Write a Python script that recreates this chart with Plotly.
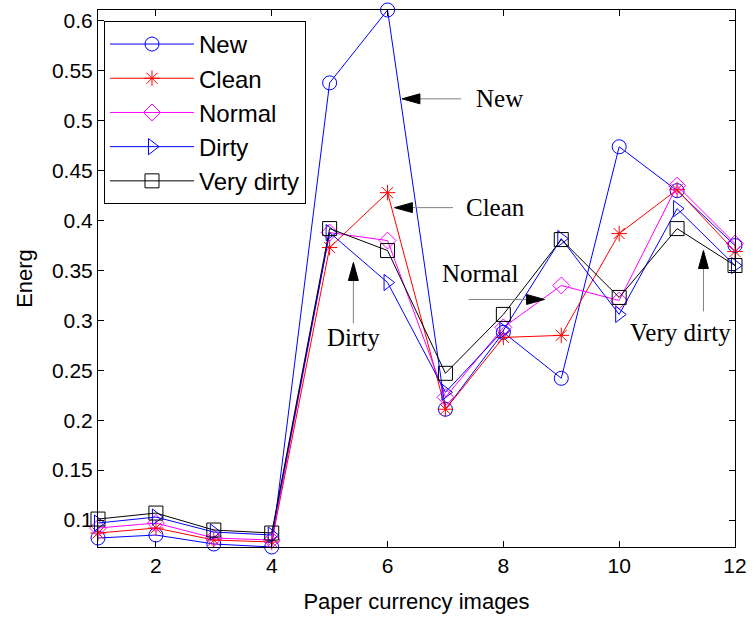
import plotly.graph_objects as go

x_vals = list(range(1, 13))
new = [0.082, 0.085, 0.076, 0.073, 0.538, 0.611, 0.211, 0.288, 0.242, 0.474, 0.430, 0.375]
clean = [0.087, 0.092, 0.080, 0.078, 0.373, 0.428, 0.211, 0.283, 0.285, 0.387, 0.431, 0.369]
normal = [0.092, 0.097, 0.082, 0.080, 0.388, 0.380, 0.223, 0.293, 0.335, 0.320, 0.435, 0.377]
dirty = [0.097, 0.103, 0.088, 0.085, 0.388, 0.338, 0.228, 0.290, 0.382, 0.306, 0.412, 0.355]
very_dirty = [0.101, 0.107, 0.090, 0.087, 0.392, 0.370, 0.247, 0.306, 0.381, 0.323, 0.392, 0.355]

series_names = ["New", "Clean", "Normal", "Dirty", "Very dirty"]
series_vals = [new, clean, normal, dirty, very_dirty]
colors = ["#0000ff", "#ff0000", "#ff00ff", "#0000ff", "#000000"]
symbols = ["circle-open", "asterisk-open", "diamond-open", "triangle-right-open", "square-open"]
sizes = [14, 13, 13, 14, 14]

y_ticks = [0.1, 0.15, 0.2, 0.25, 0.3, 0.35, 0.4, 0.45, 0.5, 0.55, 0.6]
y_ticktext = ["0.1", "0.15", "0.2", "0.25", "0.3", "0.35", "0.4", "0.45", "0.5", "0.55", "0.6"]
x_ticks = [2, 4, 6, 8, 10, 12]

# annotation callouts: label, text position, arrow tail, arrow tip, direction
callouts = [
    ("New", (7.94, 0.522), (7.27, 0.522), (6.25, 0.522), "left"),
    ("Clean", (7.87, 0.413), (7.13, 0.413), (6.12, 0.413), "left"),
    ("Normal", (7.59, 0.347), (7.40, 0.321), (8.71, 0.321), "right"),
    ("Dirty", (5.41, 0.283), (5.41, 0.297), (5.41, 0.358), "up"),
    ("Very dirty", (11.06, 0.288), (11.455, 0.309), (11.455, 0.370), "up"),
]

fig = go.Figure()
for name, vals, c, s, sz in zip(series_names, series_vals, colors, symbols, sizes):
    fig.add_trace(go.Scatter(
        x=x_vals, y=vals, name=name, mode="lines+markers",
        line=dict(color=c, width=1),
        marker=dict(symbol=s, size=sz, color=c, line=dict(color=c, width=1)),
        cliponaxis=False,
    ))

px_x = 641 / 11.0   # px per x unit
px_y = 538 / (0.611 - 0.073)  # px per y unit
head_len = 18
head_half = 5

shapes = []
annotations = []
for label, tpos, tail, tip, d in callouts:
    if d == "left":
        base = (tip[0] + head_len / px_x, tip[1])
        path = "M {},{} L {},{} L {},{} Z".format(tip[0], tip[1], base[0], tip[1] + head_half / px_y, base[0], tip[1] - head_half / px_y)
    elif d == "right":
        base = (tip[0] - head_len / px_x, tip[1])
        path = "M {},{} L {},{} L {},{} Z".format(tip[0], tip[1], base[0], tip[1] + head_half / px_y, base[0], tip[1] - head_half / px_y)
    else:
        base = (tip[0], tip[1] - head_len / px_y)
        path = "M {},{} L {},{} L {},{} Z".format(tip[0], tip[1], tip[0] - head_half / px_x, base[1], tip[0] + head_half / px_x, base[1])
    shapes.append(dict(type="line", xref="x", yref="y", x0=tail[0], y0=tail[1], x1=base[0], y1=base[1],
                       line=dict(color="#808080", width=1)))
    shapes.append(dict(type="path", xref="x", yref="y", path=path, fillcolor="black",
                       line=dict(color="black", width=1)))
    annotations.append(dict(x=tpos[0], y=tpos[1], xref="x", yref="y", text=label, showarrow=False,
                            font=dict(family="Liberation Serif", size=25, color="black"),
                            xanchor="center", yanchor="middle"))

fig.update_layout(
    width=756, height=621,
    margin=dict(l=98, r=17, t=9, b=74),
    paper_bgcolor="white", plot_bgcolor="white",
    font=dict(family="Liberation Sans", size=21, color="black"),
    shapes=shapes,
    annotations=annotations,
    legend=dict(
        x=0.0094, y=0.9796, xanchor="left", yanchor="top",
        bgcolor="white", bordercolor="black", borderwidth=1,
        font=dict(family="Liberation Sans", size=24, color="black"),
        itemwidth=84,
    ),
    xaxis=dict(
        range=[1, 12], tickvals=x_ticks, ticks="inside", ticklen=6, tickcolor="black",
        showline=True, linecolor="black", linewidth=1, mirror="ticks",
        showgrid=False, zeroline=False,
        title=dict(text="Paper currency images", font=dict(size=22), standoff=17),
    ),
    yaxis=dict(
        range=[0.073, 0.611], tickvals=y_ticks, ticktext=y_ticktext, ticks="inside", ticklen=6,
        tickcolor="black", showline=True, linecolor="black", linewidth=1, mirror="ticks",
        showgrid=False, zeroline=False,
        title=dict(text="Energ", font=dict(size=22), standoff=13),
    ),
)

fig.write_html("out.html")
